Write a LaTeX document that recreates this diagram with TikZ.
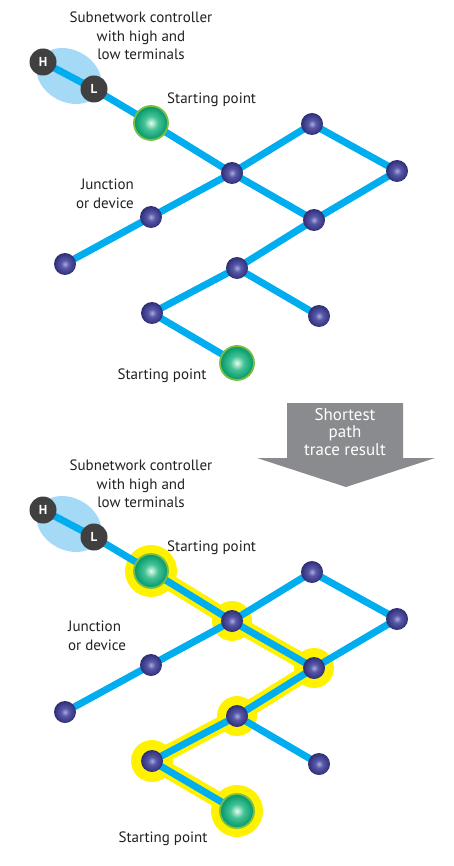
\documentclass[tikz,border=0pt]{standalone}
\usepackage{fontspec}
\setmainfont{PT Sans}
\usepackage{tikz}
\usetikzlibrary{shapes,arrows}

\definecolor{pipeblue}{RGB}{0,174,239}
\definecolor{halolight}{RGB}{164,218,245}
\definecolor{termgray}{RGB}{64,64,65}
\definecolor{junchi}{RGB}{170,170,220}
\definecolor{juncmid}{RGB}{88,88,170}
\definecolor{juncdark}{RGB}{46,46,118}
\definecolor{starthi}{RGB}{235,250,242}
\definecolor{startmid}{RGB}{70,195,150}
\definecolor{startdark}{RGB}{0,150,105}
\definecolor{startrim}{RGB}{125,190,65}
\definecolor{traceyellow}{RGB}{255,242,0}
\definecolor{arrowgray}{RGB}{138,139,142}
\definecolor{inkdark}{RGB}{35,31,32}

\pgfdeclareradialshading{junctionball}{\pgfpoint{0bp}{0bp}}{color(0bp)=(junchi); color(9bp)=(juncmid); color(25bp)=(juncdark); color(50bp)=(juncdark)}
\pgfdeclareradialshading{startball}{\pgfpoint{0bp}{0bp}}{color(0bp)=(starthi); color(10bp)=(startmid); color(25bp)=(startdark); color(50bp)=(startdark)}

\pgfdeclarelayer{halo}
\pgfdeclarelayer{pipes}
\pgfsetlayers{halo,pipes,main}

\begin{document}
\begin{tikzpicture}[x=1pt,y=-1pt,
  pipe/.style={draw=pipeblue, line width=7, line cap=round},
  trace/.style={draw=traceyellow, line width=16, line join=round},
  junction/.style={circle, minimum size=22, inner sep=0, shading=junctionball},
  start/.style={circle, minimum size=34, inner sep=0, shading=startball, draw=startrim, line width=1.8},
  terminal/.style={circle, minimum size=27, inner sep=0, fill=termgray, text=white, font=\fontsize{13}{15}\selectfont\bfseries},
  caption/.style={font=\fontsize{15}{18.5}\selectfont, text=inkdark, inner sep=0}
  ]
  \useasboundingbox (0,0) rectangle (453,866);

  % both networks, before and after the trace
  \foreach \h/\dy in {a/0,b/448}{
    \begin{scope}[yshift=-\dy]
      \node[terminal] (\h H) at (43,62) {H};
      \node[terminal] (\h L) at (94,89) {L};
      \node[start] (\h S1) at (151,123) {};
      \node[junction] (\h A) at (232,173) {};
      \node[junction] (\h B) at (312,124) {};
      \node[junction] (\h C) at (397,171) {};
      \node[junction] (\h D) at (314,220) {};
      \node[junction] (\h E) at (151,217) {};
      \node[junction] (\h F) at (65,264) {};
      \node[junction] (\h G) at (237,268) {};
      \node[junction] (\h I) at (152,313) {};
      \node[junction] (\h J) at (319,316) {};
      \node[start] (\h S2) at (237,363) {};
      \begin{pgfonlayer}{halo}
        \fill[halolight, rotate around={-28:(69,76)}] (69,76) ellipse (34 and 26);
      \end{pgfonlayer}
      \begin{pgfonlayer}{pipes}
        \draw[pipe] (\h H.center) -- (\h L.center) -- (\h S1.center) -- (\h A.center) -- (\h B.center) -- (\h C.center) -- (\h D.center) -- (\h A.center) -- (\h E.center) -- (\h F.center);
        \draw[pipe] (\h D.center) -- (\h G.center) -- (\h J.center);
        \draw[pipe] (\h G.center) -- (\h I.center) -- (\h S2.center);
      \end{pgfonlayer}
      \node[caption, align=center] (\h ctrl) at (141,36) {Subnetwork controller\\with high and\\low terminals};
      \node[caption, anchor=west] (\h start1) at (167,100) {Starting point};
    \end{scope}
  }

  % top labels
  \node[caption, align=right, anchor=east] (ajunc) at (134,194) {Junction\\or device};
  \node[caption] (astart2) at (162,376) {Starting point};

  % arrow between the two
  \fill[arrowgray] (287,403) -- (403,403) -- (403,458) -- (435,458) -- (346,487) -- (257,458) -- (287,458) -- cycle;
  \node[align=center, text=white, font=\fontsize{17}{17.5}\selectfont, inner sep=0] (result) at (345,432) {Shortest\\path\\trace result};

  % bottom labels
  \node[caption, align=left, anchor=west] (bjunc) at (68,636) {Junction\\or device};
  \node[caption] (bstart2) at (163,839) {Starting point};

  % shortest path highlight
  \begin{pgfonlayer}{halo}
    \fill[traceyellow] (bS1) circle (26) (bS2) circle (26);
    \fill[traceyellow] (bA) circle (20) (bD) circle (20) (bG) circle (20) (bI) circle (21);
    \draw[trace] (bS1.center) -- (bA.center) -- (bD.center) -- (bG.center) -- (bI.center) -- (bS2.center);
  \end{pgfonlayer}
\end{tikzpicture}
\end{document}
